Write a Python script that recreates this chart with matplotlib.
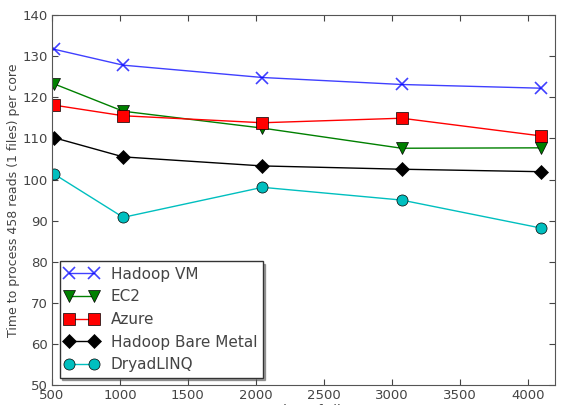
import matplotlib
matplotlib.use("Agg")
import matplotlib.pyplot as plt

# number of files on the x axis
files = [512, 1024, 2048, 3072, 4096]

hadoop_vm = [131.7, 127.8, 124.8, 123.1, 122.2]
ec2 = [123.3, 116.6, 112.5, 107.6, 107.7]
azure = [118.1, 115.5, 113.8, 114.9, 110.6]
bare_metal = [110.2, 105.5, 103.3, 102.5, 101.9]
dryad = [101.4, 90.8, 98.1, 95.0, 88.2]

fig = plt.figure(figsize=(5.77, 4.05), dpi=100)
ax = fig.add_axes([0.09, 0.049, 0.872, 0.914])

ax.plot(files, hadoop_vm, color=(0, 0, 1), marker='x', markersize=8, mew=1.2, lw=1, label='Hadoop VM', alpha=0.75)
ax.plot(files, ec2, color=(0, 0.5, 0), marker='v', markersize=8, mec='k', mew=0.5, lw=1, label='EC2')
ax.plot(files, azure, color=(1, 0, 0), marker='s', markersize=8, mec='k', mew=0.5, lw=1, label='Azure')
ax.plot(files, bare_metal, color='k', marker='D', markersize=7, mew=0.5, lw=1, label='Hadoop Bare Metal')
ax.plot(files, dryad, color=(0, 0.75, 0.75), marker='o', markersize=8, mec='k', mew=0.5, lw=1, label='DryadLINQ')

ax.set_xlim(500, 4200)
ax.set_ylim(50, 140)
ax.set_xticks([500, 1000, 1500, 2000, 2500, 3000, 3500, 4000])
ax.set_yticks(range(50, 141, 10))
ax.tick_params(direction='in', top=True, right=True, labelsize=9.5, colors='#444444', length=4, pad=3)
for s in ax.spines.values():
    s.set_color('#555555')

ax.set_ylabel('Time to process 458 reads (1 files) per core', fontsize=9, color='#444444', labelpad=2)
ax.set_xlabel('Number of Files', fontsize=9.5, color='#444444', labelpad=1)

leg = ax.legend(loc='lower left', numpoints=2, fontsize=11, fancybox=False, shadow=True,
                handlelength=2.2, borderaxespad=0.5, labelspacing=0.5, borderpad=0.35)
leg.get_frame().set_edgecolor('#333333')
for t in leg.get_texts():
    t.set_color('#444444')

fig.savefig('out.png', dpi=100, facecolor='white')
